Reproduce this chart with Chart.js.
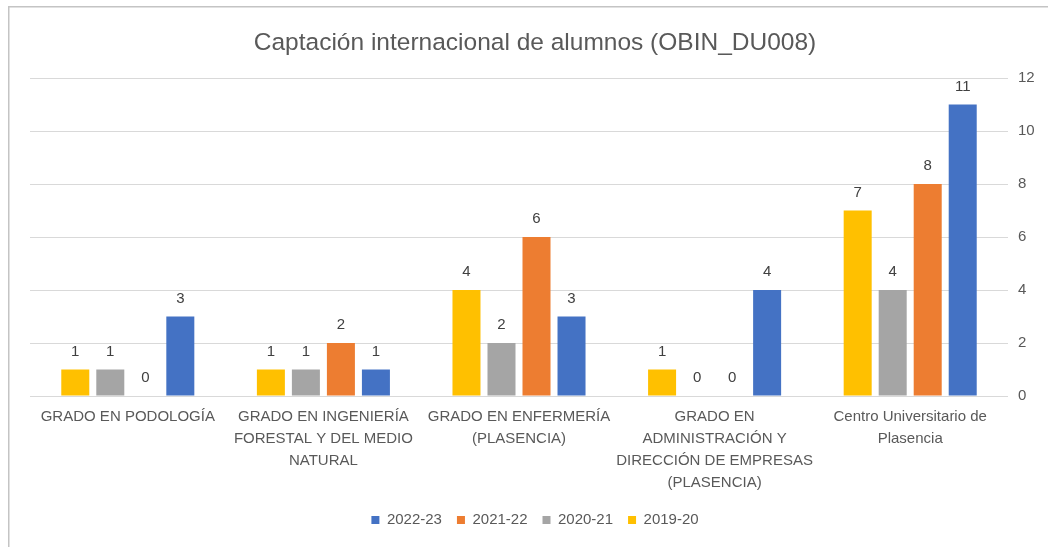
<!DOCTYPE html>
<html>
<head>
<meta charset="utf-8">
<script src="https://cdn.jsdelivr.net/npm/chart.js@4.4.0/dist/chart.umd.min.js"></script>
<style>
  html, body { margin: 0; padding: 0; background: #ffffff; }
  #wrap { position: absolute; left: 0; top: 0; width: 1048px; height: 547px; }
</style>
</head>
<body>
<div id="wrap"><canvas id="c" width="1048" height="547"></canvas></div>
<script>
const categories = [
  ['GRADO EN PODOLOGÍA'],
  ['GRADO EN INGENIERÍA', 'FORESTAL Y DEL MEDIO', 'NATURAL'],
  ['GRADO EN ENFERMERÍA', '(PLASENCIA)'],
  ['GRADO EN', 'ADMINISTRACIÓN Y', 'DIRECCIÓN DE EMPRESAS', '(PLASENCIA)'],
  ['Centro Universitario de', 'Plasencia']
];
const seriesNames = ['2019-20', '2020-21', '2021-22', '2022-23'];
const s2019 = [1, 1, 4, 1, 7];
const s2020 = [1, 1, 2, 0, 4];
const s2021 = [0, 2, 6, 0, 8];
const s2022 = [3, 1, 3, 4, 11];
const seriesColors = ['#FFC000', '#A5A5A5', '#ED7D31', '#4472C4'];
const yTicks = [0, 2, 4, 6, 8, 10, 12];
const titleText = 'Captación internacional de alumnos (OBIN_DU008)';

const FONT = '"Liberation Sans", Arial, sans-serif';
const TXT = '#595959';

const borderPlugin = {
  id: 'frame',
  afterDraw(chart) {
    const ctx = chart.ctx;
    ctx.save();
    ctx.strokeStyle = '#c4c4c4';
    ctx.lineWidth = 1.5;
    ctx.beginPath();
    ctx.moveTo(8.75, 547);
    ctx.lineTo(8.75, 6.75);
    ctx.lineTo(1048, 6.75);
    ctx.stroke();
    ctx.restore();
  }
};

const labelPlugin = {
  id: 'valueLabels',
  afterDatasetsDraw(chart) {
    const ctx = chart.ctx;
    ctx.save();
    ctx.font = '15px ' + FONT;
    ctx.fillStyle = '#404040';
    ctx.textAlign = 'center';
    ctx.textBaseline = 'middle';
    chart.data.datasets.forEach((ds, i) => {
      const meta = chart.getDatasetMeta(i);
      meta.data.forEach((bar, j) => {
        ctx.fillText(String(ds.data[j]), bar.x, bar.y - 18);
      });
    });
    ctx.restore();
  }
};

const datasets = [s2019, s2020, s2021, s2022].map((d, i) => ({
  label: seriesNames[i],
  data: d,
  backgroundColor: seriesColors[i],
  borderWidth: 0,
  categoryPercentage: 0.716,
  barPercentage: 0.8
}));

new Chart(document.getElementById('c'), {
  type: 'bar',
  data: { labels: categories, datasets },
  options: {
    responsive: false,
    animation: false,
    devicePixelRatio: 1,
    layout: { padding: { left: 30, right: 8, top: 0, bottom: 9.5 } },
    plugins: {
      title: {
        display: true,
        text: titleText,
        color: TXT,
        font: { family: FONT, size: 24.5, weight: 'normal', lineHeight: 1.2 },
        padding: { top: 28.3, bottom: 20.3 }
      },
      legend: {
        position: 'bottom',
        reverse: true,
        labels: {
          color: TXT,
          font: { family: FONT, size: 15 },
          boxWidth: 8,
          boxHeight: 8,
          padding: 15
        }
      },
      tooltip: { enabled: false }
    },
    scales: {
      x: {
        offset: true,
        grid: { display: false, drawTicks: false },
        border: { display: false },
        ticks: {
          color: TXT,
          font: { family: FONT, size: 15, lineHeight: 1.47 },
          maxRotation: 0,
          minRotation: 0,
          autoSkip: false,
          padding: 10
        },
        afterFit(s) { s.height = 101.5; }
      },
      y: {
        position: 'right',
        min: 0,
        max: 12,
        afterBuildTicks(s) { s.ticks = yTicks.map(v => ({ value: v })); },
        grid: { color: '#d9d9d9', lineWidth: 1, drawTicks: false },
        border: { display: false },
        ticks: {
          color: TXT,
          font: { family: FONT, size: 15 },
          padding: 10
        },
        afterFit(s) { s.width = 32; }
      }
    }
  },
  plugins: [borderPlugin, labelPlugin]
});
</script>
</body>
</html>
